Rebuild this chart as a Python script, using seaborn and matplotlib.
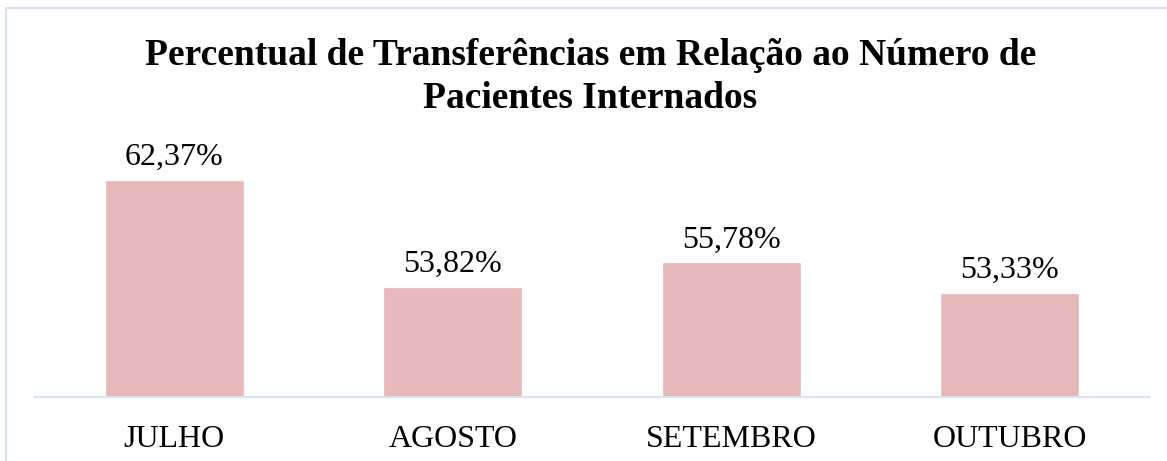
import matplotlib
matplotlib.use("Agg")
import matplotlib.pyplot as plt
import seaborn as sns
import pandas as pd
from matplotlib.patches import Rectangle

# Data
meses = ['JULHO', 'AGOSTO', 'SETEMBRO', 'OUTUBRO']
percentuais = [62.37, 53.82, 55.78, 53.33]
rotulos = ['62,37%', '53,82%', '55,78%', '53,33%']

df = pd.DataFrame({'mes': meses, 'pct': percentuais})

sns.set_style('white')
plt.rcParams['font.family'] = ['Liberation Serif', 'DejaVu Serif']
plt.rcParams['text.color'] = 'black'
plt.rcParams['xtick.color'] = 'black'

fig = plt.figure(figsize=(11.67, 4.61), dpi=100)
ax = fig.add_axes([0.030, 0.1388, 0.9546, 0.57])

sns.barplot(data=df, x='mes', y='pct', color='#E6B8B7', saturation=1, width=0.5, ax=ax)

ax.set_ylim(45, 66)
ax.set_xlim(-0.5, 3.5)
for i, v in enumerate(percentuais):
    ax.text(i, v + 0.6, rotulos[i], ha='center', va='bottom', fontsize=23, color='black')

ax.set_xlabel('')
ax.set_ylabel('')
ax.set_yticks([])
ax.tick_params(axis='x', length=0, labelsize=23, pad=20, labelcolor='black')
for s in ['top', 'right', 'left']:
    ax.spines[s].set_visible(False)
ax.spines['bottom'].set_color('#D9E1F2')
ax.spines['bottom'].set_linewidth(1.5)

fig.text(0.506, 0.833, 'Percentual de Transferências em Relação ao Número de\nPacientes Internados',
         ha='center', va='center', fontsize=27, fontweight='bold', linespacing=1.28, color='black')

# chart border
fig.patches.append(Rectangle((6 / 1167, -0.1), 1.2, (461 - 8) / 461 + 0.1, transform=fig.transFigure,
                             fill=False, edgecolor='#D9E1F2', linewidth=1.5))

fig.savefig('out.png', dpi=100)
